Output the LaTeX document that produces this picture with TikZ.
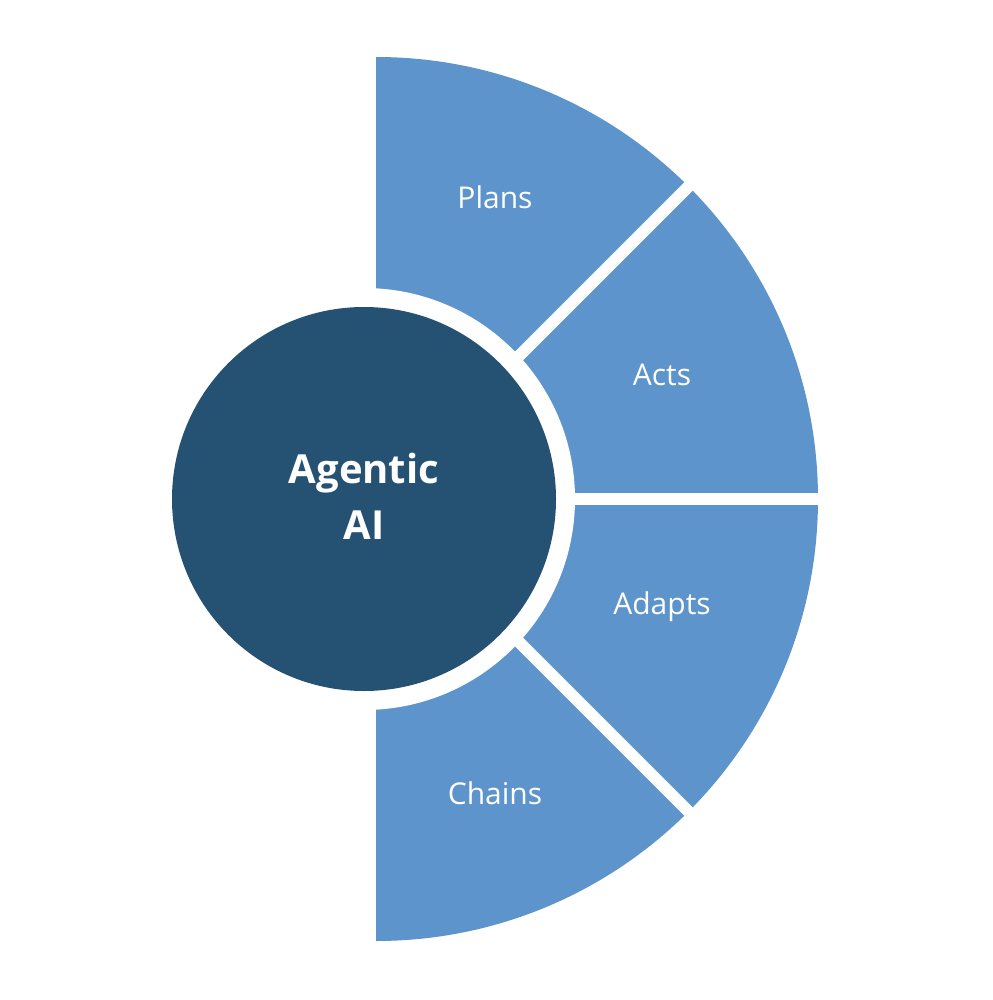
\documentclass[tikz,border=0pt]{standalone}
\usepackage{fontspec}
\setmainfont{Open Sans}
\begin{document}
\begin{tikzpicture}[x=1pt,y=-1pt,
  gap/.style={draw=white,line width=12pt},
  lab/.style={text=white,font=\fontsize{30}{34}\selectfont}]
\definecolor{segblue}{HTML}{5D94CC}
\definecolor{darkblue}{HTML}{255273}
\useasboundingbox[fill=white] (0,0) rectangle (992,1000);
\coordinate (c) at (376,499);
\fill[segblue] (376,57) arc[start angle=-90,end angle=90,radius=442] -- cycle;
\draw[gap] (c) -- ++(45:460);
\draw[gap] (c) -- ++(0:460);
\draw[gap] (c) -- ++(-45:460);
\fill[white] (364,499) circle[radius=211];
\node[circle,fill=darkblue,minimum size=384pt,inner sep=0] (core) at (364,499) {};
\node[text=white,font=\fontsize{40}{56}\selectfont\bfseries,align=center] (t) at (364,496) {Agentic\\AI};
\node[lab] (p) at (495,197) {Plans};
\node[lab] (a) at (662,375) {Acts};
\node[lab] (d) at (662,607) {Adapts};
\node[lab] (ch) at (495,793) {Chains};
\end{tikzpicture}
\end{document}
